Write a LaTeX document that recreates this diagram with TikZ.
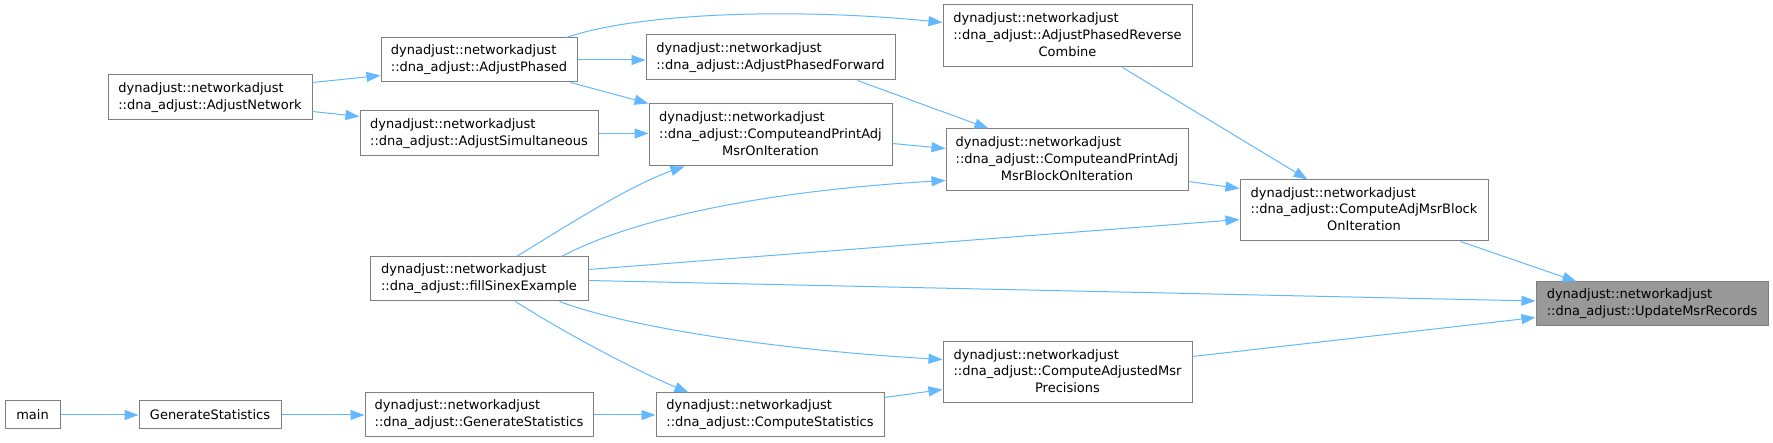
\documentclass[tikz,border=0pt]{standalone}
\usepackage{fontspec}
\setmainfont{DejaVu Sans}
\usetikzlibrary{arrows.meta,calc}
\definecolor{edgeblue}{HTML}{63B8FF}
\definecolor{boxborder}{HTML}{7F7F7F}
\definecolor{hlfill}{HTML}{999999}
\newcommand\twol[2]{\begin{tabular}{@{}l@{}}#1\\#2\end{tabular}}
\newcommand\threel[3]{\begin{tabular}{@{}l@{}}#1\\#2\\\multicolumn{1}{@{}c@{}}{#3}\end{tabular}}
\tikzset{
  fnbox/.style={draw=boxborder, line width=1pt, fill=white, rectangle, inner xsep=2pt, inner ysep=1pt,
    font=\fontsize{13}{16.7}\selectfont, text=black},
  hlbox/.style={fnbox, fill=hlfill},
  call/.style={draw=edgeblue, line width=1pt, -{Triangle[length=14pt,width=10pt]}, edgeblue}
}
\begin{document}
\begin{tikzpicture}[x=1pt,y=-1pt]
\useasboundingbox (0,0) rectangle (1773,443);
% nodes
\node[fnbox, minimum width=55pt, minimum height=28pt] (main) at (32.5,415) {main};
\node[fnbox, minimum width=142pt, minimum height=28pt] (gs) at (210,415) {GenerateStatistics};
\node[fnbox, minimum width=228pt, minimum height=44pt] (dgs) at (479,415) {\twol{dynadjust::networkadjust}{::dna\_adjust::GenerateStatistics}};
\node[fnbox, minimum width=228pt, minimum height=44pt] (cs) at (770,415) {\twol{dynadjust::networkadjust}{::dna\_adjust::ComputeStatistics}};
\node[fnbox, minimum width=249pt, minimum height=61pt] (camp) at (1067.5,372.5) {\threel{dynadjust::networkadjust}{::dna\_adjust::ComputeAdjustedMsr}{Precisions}};
\node[fnbox, minimum width=204pt, minimum height=45pt] (an) at (210,97.5) {\twol{dynadjust::networkadjust}{::dna\_adjust::AdjustNetwork}};
\node[fnbox, minimum width=196pt, minimum height=44pt] (ap) at (479,60) {\twol{dynadjust::networkadjust}{::dna\_adjust::AdjustPhased}};
\node[fnbox, minimum width=238pt, minimum height=45pt] (as) at (479,133.5) {\twol{dynadjust::networkadjust}{::dna\_adjust::AdjustSimultaneous}};
\node[fnbox, minimum width=218pt, minimum height=44pt] (fse) at (479,279) {\twol{dynadjust::networkadjust}{::dna\_adjust::fillSinexExample}};
\node[fnbox, minimum width=249pt, minimum height=45pt] (apf) at (770.5,57.5) {\twol{dynadjust::networkadjust}{::dna\_adjust::AdjustPhasedForward}};
\node[fnbox, minimum width=243pt, minimum height=62pt] (cpam) at (770.5,135) {\threel{dynadjust::networkadjust}{::dna\_adjust::ComputeandPrintAdj}{MsrOnIteration}};
\node[fnbox, minimum width=249pt, minimum height=62pt] (aprc) at (1067.5,36) {\threel{dynadjust::networkadjust}{::dna\_adjust::AdjustPhasedReverse}{Combine}};
\node[fnbox, minimum width=242pt, minimum height=62pt] (cpamb) at (1067,160) {\threel{dynadjust::networkadjust}{::dna\_adjust::ComputeandPrintAdj}{MsrBlockOnIteration}};
\node[fnbox, minimum width=248pt, minimum height=61pt] (camb) at (1364,210.5) {\threel{dynadjust::networkadjust}{::dna\_adjust::ComputeAdjMsrBlock}{OnIteration}};
\node[hlbox, minimum width=232pt, minimum height=44pt] (umr) at (1652,304) {\twol{dynadjust::networkadjust}{::dna\_adjust::UpdateMsrRecords}};
% edges
\draw[call] (main.east) -- (gs.west);
\draw[call] (gs.east) -- (dgs.west);
\draw[call] (dgs.east) -- (cs.west);
\draw[call] ($(cs.north east)+(0,5)$) -- ($(camp.south west)+(0,-14)$);
\draw[call] ($(camp.north east)+(0,15)$) -- ($(umr.south west)+(0,-9)$);
\draw[call] ($(camb.south east)+(-28,0)$) -- ($(umr.north west)+(41,0)$);
\draw[call] ($(cpamb.south east)+(0,-10)$) -- ($(camb.north west)+(0,9)$);
\draw[call] ($(aprc.south east)+(-70,0)$) -- ($(camb.north west)+(68,0)$);
\draw[call] ($(fse.north east)+(0,13)$) -- ($(camb.north west)+(0,40)$);
\draw[call] ($(fse.north east)+(0,24)$) -- ($(umr.north west)+(0,19.5)$);
\draw[call] ($(fse.south east)+(-29,0)$) .. controls (630,328) and (780,350) .. ($(camp.north west)+(0,18)$);
\draw[call] ($(fse.south west)+(146,0)$) .. controls (560,330) and (630,368) .. ($(cs.north west)+(33,0)$);
\draw[call] ($(fse.north west)+(147,0)$) .. controls (560,230) and (630,185) .. ($(cpam.south west)+(36,0)$);
\draw[call] ($(fse.north east)+(-27,0)$) .. controls (640,215) and (780,190) .. ($(cpamb.south west)+(0,-11)$);
\draw[call] ($(cpam.north east)+(0,40)$) -- ($(cpamb.north west)+(0,20)$);
\draw[call] ($(apf.south east)+(-38,0)$) -- ($(cpamb.north west)+(43,0)$);
\draw[call] (as.east) -- (as.east -| cpam.west);
\draw[call] ($(ap.south east)+(-7,0)$) -- (cpam.north west);
\draw[call] (ap.east) -- (ap.east -| apf.west);
\draw[call] ($(ap.north east)+(-11,0)$) .. controls (640,12) and (800,8) .. ($(aprc.north west)+(0,18)$);
\draw[call] ($(an.north east)+(0,8)$) -- ($(ap.south west)+(0,-7)$);
\draw[call] ($(an.south east)+(0,-9)$) -- ($(as.north west)+(0,6)$);
\end{tikzpicture}
\end{document}
